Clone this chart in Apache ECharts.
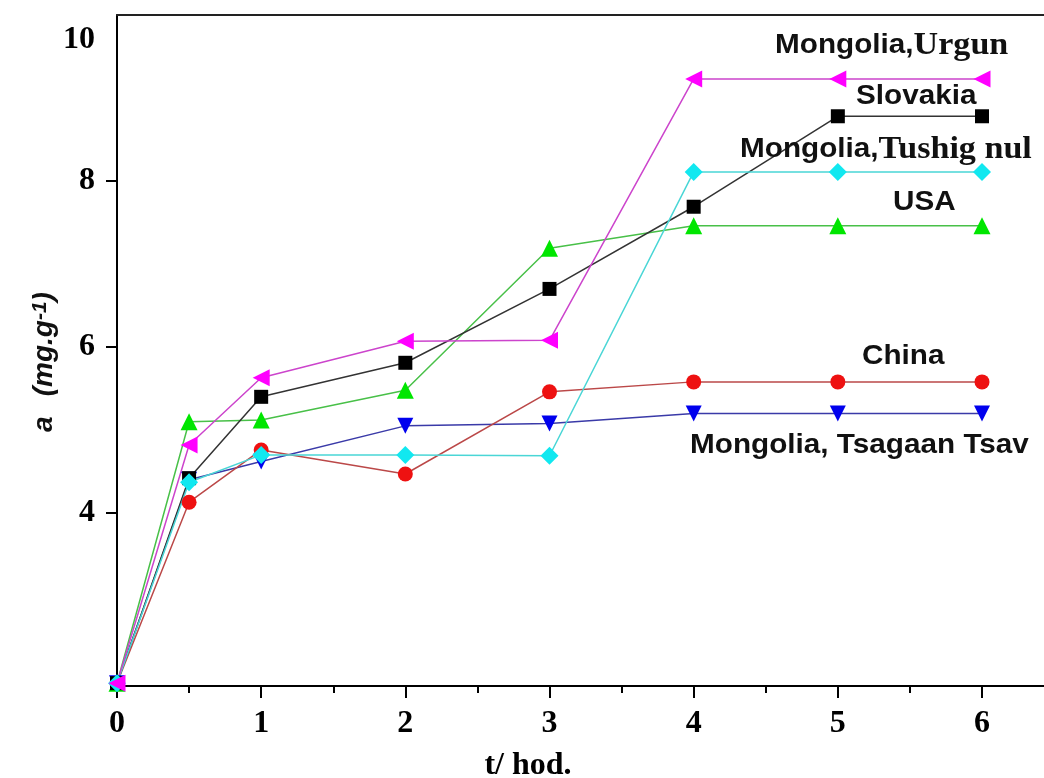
<!DOCTYPE html>
<html>
<head>
<meta charset="utf-8">
<script src="https://cdn.jsdelivr.net/npm/echarts@6/dist/echarts.min.js"></script>
<style>html,body{margin:0;padding:0;background:#fff;}#c{width:1044px;height:778px;}</style>
</head>
<body>
<div id="c"></div>
<script>
var times = [0, 0.5, 1, 2, 3, 4, 5, 6];
var xTickLabels = [0, 1, 2, 3, 4, 5, 6];
var xMinorTicks = [0.5, 1.5, 2.5, 3.5, 4.5, 5.5];
var yTickLabels = [4, 6, 8, 10];

var urgun    = [1.95, 4.82, 5.63, 6.07, 6.08, 9.23, 9.23, 9.23];
var slovakia = [1.95, 4.42, 5.40, 5.81, 6.70, 7.69, 8.78, 8.78];
var usa      = [1.95, 5.10, 5.12, 5.48, 7.19, 7.46, 7.46, 7.46];
var china    = [1.95, 4.13, 4.76, 4.47, 5.46, 5.58, 5.58, 5.58];
var tsagaan  = [1.95, 4.40, 4.62, 5.05, 5.08, 5.20, 5.20, 5.20];
var tushig   = [1.95, 4.37, 4.70, 4.70, 4.69, 8.11, 8.11, 8.11];

function pairs(ys) { return times.map(function (t, i) { return [t, ys[i]]; }); }

function mk(name, ys, symbol, rot, size, mcol, lcol) {
  return {
    name: name, type: 'line', data: pairs(ys),
    symbol: symbol, symbolRotate: rot, symbolSize: size,
    showAllSymbol: true,
    itemStyle: { color: mcol, borderWidth: 0 },
    lineStyle: { color: lcol, width: 1.5 },
    emphasis: { disabled: true },
    animation: false
  };
}

var chart = echarts.init(document.getElementById('c'), null, { renderer: 'canvas' });
var serif = '"Liberation Serif", "Times New Roman", serif';
var sans = '"Liberation Sans", Arial, sans-serif';

var option = {
  backgroundColor: '#fff',
  animation: false,
  grid: { left: 117, right: 0, top: 15, bottom: 92, containLabel: false },
  xAxis: [
    {
      type: 'value', min: 0, max: 6.43, position: 'bottom',
      axisLine: { show: true, onZero: false, lineStyle: { color: '#000', width: 2 } },
      axisTick: { show: true, inside: false, length: 12, lineStyle: { color: '#000', width: 2 }, customValues: xTickLabels },
      axisLabel: { show: true, customValues: xTickLabels, margin: 22, color: '#000', fontFamily: serif, fontWeight: 'bold', fontSize: 32 },
      splitLine: { show: false }
    },
    {
      type: 'value', min: 0, max: 6.43, position: 'bottom',
      axisLine: { show: false, onZero: false },
      axisTick: { show: true, inside: false, length: 7, lineStyle: { color: '#000', width: 2 }, customValues: xMinorTicks },
      axisLabel: { show: false },
      splitLine: { show: false }
    },
    {
      type: 'value', min: 0, max: 6.43, position: 'top',
      axisLine: { show: true, onZero: false, lineStyle: { color: '#222', width: 2 } },
      axisTick: { show: false }, axisLabel: { show: false }, splitLine: { show: false }
    }
  ],
  yAxis: {
    type: 'value', min: 1.916, max: 10,
    axisLine: { show: true, onZero: false, lineStyle: { color: '#000', width: 2 } },
    axisTick: { show: true, inside: false, length: 11, lineStyle: { color: '#000', width: 2 }, customValues: [4, 6, 8] },
    axisLabel: {
      show: true, customValues: yTickLabels, margin: 22, color: '#000',
      fontFamily: serif, fontWeight: 'bold', fontSize: 32,
      formatter: function (v) { return v === 10 ? '{t|10}' : String(v); },
      rich: { t: { fontFamily: serif, fontWeight: 'bold', fontSize: 32, color: '#000', padding: [50, 0, 0, 0] } }
    },
    splitLine: { show: false }
  },
  series: [
    mk('Mongolia, Tsagaan Tsav', tsagaan, 'triangle', 180, 16, '#0000ee', '#3a3aa8'),
    mk('China', china, 'circle', 0, 15, '#ee1111', '#bb4848'),
    mk('USA', usa, 'triangle', 0, 17, '#00e600', '#48c048'),
    mk('Slovakia', slovakia, 'rect', 0, 14, '#000000', '#333333'),
    mk('Mongolia, Tushig nul', tushig, 'diamond', 0, 18, '#11e8f0', '#4ad6d6'),
    mk('Mongolia, Urgun', urgun, 'triangle', 90, 17, '#ff00ff', '#cc44cc')
  ],
  graphic: [
    { type: 'text', x: 775, y: 46, scaleX: 1.1, z: 100, style: { text: '{s|Mongolia,}{r|Urgun}', textAlign: 'left', textVerticalAlign: 'middle',
      rich: { s: { font: 'bold 27px ' + sans, fill: '#111' }, r: { font: 'bold 31px ' + serif, fill: '#111' } } } },
    { type: 'text', x: 856, y: 97, scaleX: 1.1, z: 100, style: { text: 'Slovakia', font: 'bold 27px ' + sans, fill: '#111', textAlign: 'left', textVerticalAlign: 'middle' } },
    { type: 'text', x: 740, y: 150, scaleX: 1.1, z: 100, style: { text: '{s|Mongolia,}{r|Tushig nul}', textAlign: 'left', textVerticalAlign: 'middle',
      rich: { s: { font: 'bold 27px ' + sans, fill: '#111' }, r: { font: 'bold 31px ' + serif, fill: '#111' } } } },
    { type: 'text', x: 893, y: 203, scaleX: 1.1, z: 100, style: { text: 'USA', font: 'bold 27px ' + sans, fill: '#111', textAlign: 'left', textVerticalAlign: 'middle' } },
    { type: 'text', x: 862, y: 357, scaleX: 1.1, z: 100, style: { text: 'China', font: 'bold 27px ' + sans, fill: '#111', textAlign: 'left', textVerticalAlign: 'middle' } },
    { type: 'text', x: 690, y: 446, scaleX: 1.1, z: 100, style: { text: 'Mongolia, Tsagaan Tsav', font: 'bold 27px ' + sans, fill: '#111', textAlign: 'left', textVerticalAlign: 'middle' } },
    { type: 'text', x: 528, y: 766, z: 100, style: { text: 't/ hod.', font: 'bold 32px ' + serif, fill: '#000', textAlign: 'center', textVerticalAlign: 'middle' } },
    { type: 'text', x: 44, y: 362, rotation: Math.PI / 2, z: 100, style: {
      text: '{a|a}{m|(mg.g}{u|-1}{m|)}', textAlign: 'center', textVerticalAlign: 'middle',
      rich: {
        a: { font: 'italic bold 28px ' + sans, fill: '#111', padding: [0, 20, 0, 0] },
        m: { font: 'italic bold 28px ' + sans, fill: '#111' },
        u: { font: 'italic bold 21px ' + sans, fill: '#111', verticalAlign: 'top' }
      } } }
  ]
};
chart.setOption(option);
</script>
</body>
</html>
